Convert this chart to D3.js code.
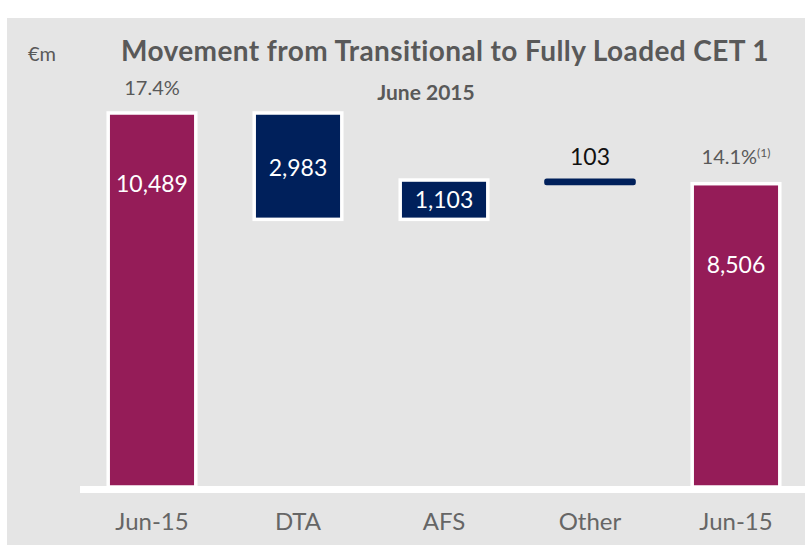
<!DOCTYPE html>
<html>
<head>
<meta charset="utf-8">
<script src="https://cdn.jsdelivr.net/npm/d3@7"></script>
<style>
  body { margin: 0; background: #fff; }
  text { font-family: Lato, "Open Sans", sans-serif; }
</style>
</head>
<body>
<div id="chart"></div>
<script>
'use strict';

// data
var categories = ["Jun-15", "DTA", "AFS", "Other", "Jun-15"];
var changes = [10489, -2983, 1103, -103, 8506];
var kinds = ["total", "step", "step", "step", "total"];
var valueLabels = ["10,489", "2,983", "1,103", "103", "8,506"];
var ratioLabels = ["17.4%", "", "", "", "14.1%"];

var width = 805, height = 549;
var baseY = 487;

var svg = d3.select("#chart").append("svg")
    .attr("width", width)
    .attr("height", height);

svg.append("rect")
    .attr("x", 7).attr("y", 18)
    .attr("width", width - 7).attr("height", 527)
    .attr("fill", "#e5e5e5");

// waterfall ranges
var run = 0;
var bars = categories.map(function (c, i) {
    var lo, hi;
    if (kinds[i] === "total") {
        lo = 0; hi = changes[i]; run = changes[i];
    } else {
        var next = run + changes[i];
        lo = Math.min(run, next); hi = Math.max(run, next); run = next;
    }
    return {i: i, cat: c, lo: lo, hi: hi, kind: kinds[i]};
});

var x = d3.scaleBand()
    .domain(d3.range(categories.length))
    .range([79, 809])
    .paddingInner(0.4)
    .paddingOuter(0.2);

var y = d3.scaleLinear()
    .domain([0, 10489])
    .range([baseY, 113]);

var fillColor = function (d) { return d.kind === "total" ? "#951c58" : "#00205b"; };

// bars (not the tiny "Other" one)
var big = bars.filter(function (d) { return d.i !== 3; });
svg.selectAll("rect.bar")
    .data(big)
    .enter().append("rect")
    .attr("class", "bar")
    .attr("x", function (d) { return x(d.i); })
    .attr("y", function (d) { return y(d.hi); })
    .attr("width", x.bandwidth())
    .attr("height", function (d) { return y(d.lo) - y(d.hi); })
    .attr("fill", fillColor)
    .attr("stroke", "#fff")
    .attr("stroke-width", 3.5);

// Other as a thin rounded line
var other = bars[3];
svg.append("rect")
    .attr("x", x(3) - 2)
    .attr("y", y(other.hi) - 1.5)
    .attr("width", x.bandwidth() + 4)
    .attr("height", y(other.lo) - y(other.hi) + 3)
    .attr("rx", 2.5)
    .attr("fill", "#00205b");

// axis line
svg.append("rect")
    .attr("x", 80).attr("y", baseY - 1)
    .attr("width", width - 80).attr("height", 7)
    .attr("fill", "#fff");

var cx = function (i) { return x(i) + x.bandwidth() / 2; };

// value labels
var labelY = [184, 168, 200, 157, 265];
svg.selectAll("text.val")
    .data(bars)
    .enter().append("text")
    .attr("class", "val")
    .attr("x", function (d) { return cx(d.i); })
    .attr("y", function (d) { return labelY[d.i]; })
    .attr("dy", "0.35em")
    .attr("text-anchor", "middle")
    .attr("font-size", 23)
    .attr("fill", function (d) { return d.i === 3 ? "#111" : "#fff"; })
    .text(function (d) { return valueLabels[d.i]; });

// ratio labels above totals
var ratioY = [88, 0, 0, 0, 157];
bars.filter(function (d) { return ratioLabels[d.i]; }).forEach(function (d) {
    var t = svg.append("text")
        .attr("x", cx(d.i))
        .attr("y", ratioY[d.i])
        .attr("dy", "0.35em")
        .attr("text-anchor", "middle")
        .attr("font-size", 20)
        .attr("fill", "#595959")
        .text(ratioLabels[d.i]);
    if (d.i === 4) {
        t.append("tspan").attr("font-size", 12).attr("dy", "-0.6em").text("(1)");
    }
});

// category labels
svg.selectAll("text.cat")
    .data(bars)
    .enter().append("text")
    .attr("class", "cat")
    .attr("x", function (d) { return cx(d.i); })
    .attr("y", 522)
    .attr("dy", "0.35em")
    .attr("text-anchor", "middle")
    .attr("font-size", 24)
    .attr("fill", "#666")
    .text(function (d) { return d.cat; });

// titles
svg.append("text")
    .attr("x", 445).attr("y", 51)
    .attr("dy", "0.35em")
    .attr("text-anchor", "middle")
    .attr("font-size", 28)
    .attr("letter-spacing", 0.4)
    .attr("font-weight", "bold")
    .attr("fill", "#595959")
    .text("Movement from Transitional to Fully Loaded CET 1");

svg.append("text")
    .attr("x", 426).attr("y", 93)
    .attr("dy", "0.35em")
    .attr("text-anchor", "middle")
    .attr("font-size", 21)
    .attr("font-weight", "bold")
    .attr("fill", "#595959")
    .text("June 2015");

svg.append("text")
    .attr("x", 28).attr("y", 54)
    .attr("dy", "0.35em")
    .attr("font-size", 20)
    .attr("fill", "#595959")
    .text("€m");
</script>
</body>
</html>
